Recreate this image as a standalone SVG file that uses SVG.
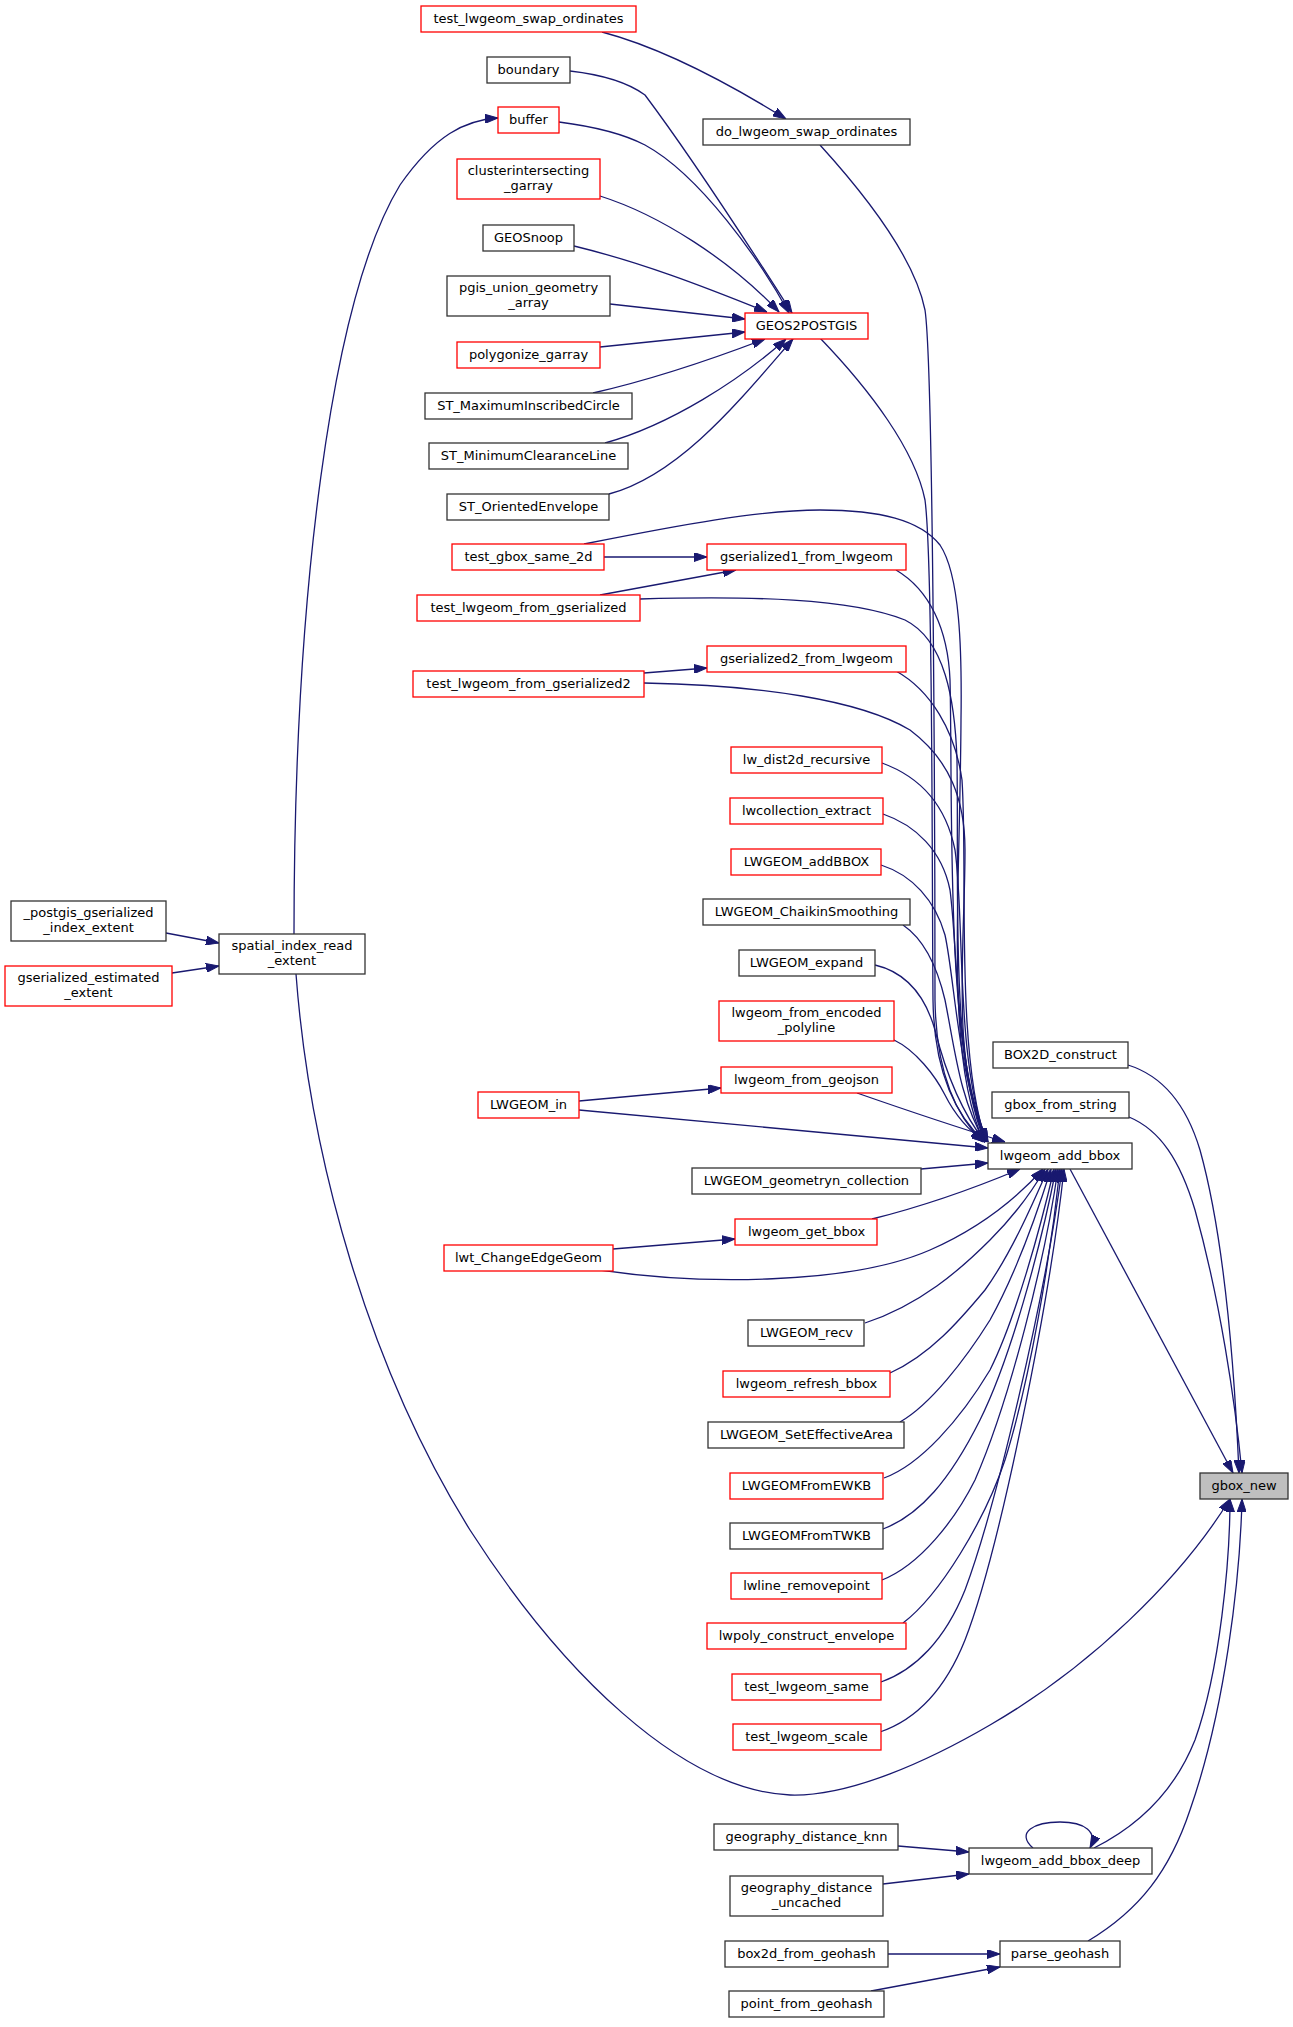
<svg xmlns="http://www.w3.org/2000/svg" width="1293" height="2027" viewBox="0 0 1293 2027">
<style>
.n rect{fill:#fff;stroke:#333333;stroke-width:1.3}
.r rect{fill:#fff;stroke:#ff0000;stroke-width:1.3}
.root rect{fill:#bfbfbf;stroke:#333333;stroke-width:1.3}
text{font-family:"DejaVu Sans","Liberation Sans",sans-serif;font-size:13px;fill:#000;text-anchor:middle}
.e path{fill:none;stroke:#191970;stroke-width:1.3;marker-end:url(#a)}
</style>
<defs>
<marker id="a" markerUnits="userSpaceOnUse" markerWidth="13" markerHeight="9" viewBox="0 0 13 9" refX="13" refY="4.5" orient="auto">
<path d="M0,0 L13,4.5 L0,9 z" fill="#191970" stroke="#191970" stroke-width="1"/>
</marker>
</defs>
<rect x="0" y="0" width="1293" height="2027" fill="#fff"/>
<g id="connectors" class="e">
<path d="M602,32 C655,46 720,78 786,119"/>
<path d="M570,71 C605,75 630,84 645,95 C690,155 755,255 792,313"/>
<path d="M559,122 C590,126 620,132 645,145 C700,175 760,260 789,313"/>
<path d="M600,196 C660,215 730,260 779,312"/>
<path d="M574,246 C640,262 700,285 767,312"/>
<path d="M610,304 L745,319"/>
<path d="M600,347 L745,332"/>
<path d="M593,393 C650,380 710,360 765,339"/>
<path d="M605,443 C670,425 740,380 786,339"/>
<path d="M609,494 C680,475 740,400 793,339"/>
<path d="M294,934 C294,600 330,300 400,185 C435,135 465,120 498,118"/>
<path d="M296,974 C310,1160 370,1370 470,1530 C560,1670 680,1790 790,1795 C850,1797 930,1760 990,1725 C1090,1667 1180,1580 1230,1499"/>
<path d="M166,933 L219,943"/>
<path d="M172,973 L219,966"/>
<path d="M820,145 C870,200 915,260 925,310 C934,370 935,900 935,1000 C936,1070 955,1115 983,1142"/>
<path d="M820,338 C870,390 915,450 925,500 C933,560 932,900 933,1000 C934,1070 955,1115 985,1142"/>
<path d="M604,557 L707,557"/>
<path d="M584,544 C680,525 760,510 820,510 C880,510 920,520 940,545 C960,575 962,650 961,720 C960,900 945,1060 984,1142"/>
<path d="M600,595 L736,570"/>
<path d="M640,599 C750,596 850,598 905,620 C945,640 955,700 957,760 C959,900 950,1060 986,1142"/>
<path d="M644,673 L707,668"/>
<path d="M644,683 C760,685 860,700 910,730 C950,760 965,800 965,850 C965,950 950,1060 987,1142"/>
<path d="M896,570 C930,590 948,630 950,680 C953,800 945,1050 985,1142"/>
<path d="M896,671 C930,690 955,730 962,780 C968,870 955,1050 986,1142"/>
<path d="M882,763 C915,775 945,800 955,850 C965,920 955,1060 987,1142"/>
<path d="M883,814 C915,825 942,850 950,890 C958,950 955,1070 988,1142"/>
<path d="M881,865 C912,875 935,900 945,935 C955,980 958,1080 988,1142"/>
<path d="M903,925 C925,940 938,970 945,1000 C955,1050 960,1100 985,1142"/>
<path d="M875,965 C905,972 925,995 935,1030 C945,1070 960,1110 985,1142"/>
<path d="M894,1040 C915,1050 935,1075 945,1095 C955,1115 968,1130 985,1142"/>
<path d="M857,1093 C900,1108 950,1125 1005,1142"/>
<path d="M579,1101 L721,1088"/>
<path d="M579,1110 L988,1148"/>
<path d="M921,1169 L988,1163"/>
<path d="M872,1219 C920,1207 970,1190 1020,1169"/>
<path d="M613,1249 L735,1239"/>
<path d="M600,1270 C700,1285 850,1285 930,1250 C980,1228 1015,1200 1043,1169"/>
<path d="M865,1323 C920,1305 960,1270 990,1240 C1010,1220 1030,1195 1045,1169"/>
<path d="M890,1373 C930,1355 960,1320 985,1290 C1010,1255 1030,1210 1048,1169"/>
<path d="M900,1422 C930,1405 965,1360 990,1320 C1015,1275 1035,1220 1051,1169"/>
<path d="M884,1478 C920,1465 960,1420 990,1370 C1015,1320 1040,1230 1054,1169"/>
<path d="M883,1529 C920,1515 950,1480 980,1420 C1010,1360 1040,1250 1056,1169"/>
<path d="M882,1580 C920,1565 955,1520 975,1480 C1010,1400 1045,1260 1058,1169"/>
<path d="M903,1623 C940,1595 985,1520 1005,1460 C1030,1380 1050,1260 1060,1169"/>
<path d="M881,1682 C915,1670 945,1640 965,1590 C995,1510 1045,1300 1062,1169"/>
<path d="M880,1732 C915,1720 945,1690 965,1640 C1000,1550 1050,1300 1064,1169"/>
<path d="M1070,1169 L1233,1473"/>
<path d="M1128,1065 C1160,1075 1185,1100 1200,1150 C1225,1240 1235,1380 1239,1473"/>
<path d="M1129,1117 C1160,1130 1180,1160 1195,1210 C1220,1300 1235,1400 1242,1473"/>
<path d="M1094,1848 C1140,1825 1175,1790 1195,1740 C1220,1670 1230,1560 1230,1499"/>
<path d="M1033,1848 C1015,1832 1035,1822 1060,1822 C1085,1822 1098,1832 1090,1848"/>
<path d="M898,1846 L969,1852"/>
<path d="M883,1884 L969,1874"/>
<path d="M888,1954 L1000,1954"/>
<path d="M871,1991 L1000,1967"/>
<path d="M1088,1941 C1140,1910 1170,1870 1190,1810 C1225,1710 1240,1580 1242,1499"/>
</g>
<g id="n_test_lwgeom_swap_ordinates" class="r"><rect x="421" y="6" width="215" height="26"/><text x="528.5" y="23">test_lwgeom_swap_ordinates</text></g>
<g id="n_boundary" class="n"><rect x="487" y="57" width="83" height="26"/><text x="528.5" y="74">boundary</text></g>
<g id="n_buffer" class="r"><rect x="498" y="107" width="61" height="26"/><text x="528.5" y="124">buffer</text></g>
<g id="n_clusterintersecting_garray" class="r"><rect x="457" y="159" width="143" height="40"/><text x="528.5" y="175">clusterintersecting</text><text x="528.5" y="190">_garray</text></g>
<g id="n_GEOSnoop" class="n"><rect x="483" y="225" width="91" height="26"/><text x="528.5" y="242">GEOSnoop</text></g>
<g id="n_pgis_union_geometry_array" class="n"><rect x="447" y="276" width="163" height="40"/><text x="528.5" y="292">pgis_union_geometry</text><text x="528.5" y="307">_array</text></g>
<g id="n_polygonize_garray" class="r"><rect x="457" y="342" width="143" height="26"/><text x="528.5" y="359">polygonize_garray</text></g>
<g id="n_ST_MaximumInscribedCircle" class="n"><rect x="425" y="393" width="207" height="26"/><text x="528.5" y="410">ST_MaximumInscribedCircle</text></g>
<g id="n_ST_MinimumClearanceLine" class="n"><rect x="429" y="443" width="199" height="26"/><text x="528.5" y="460">ST_MinimumClearanceLine</text></g>
<g id="n_ST_OrientedEnvelope" class="n"><rect x="447" y="494" width="162" height="26"/><text x="528.5" y="511">ST_OrientedEnvelope</text></g>
<g id="n_test_gbox_same_2d" class="r"><rect x="452" y="544" width="152" height="26"/><text x="528.5" y="561">test_gbox_same_2d</text></g>
<g id="n_test_lwgeom_from_gserialized" class="r"><rect x="417" y="595" width="223" height="26"/><text x="528.5" y="612">test_lwgeom_from_gserialized</text></g>
<g id="n_test_lwgeom_from_gserialized2" class="r"><rect x="413" y="671" width="231" height="26"/><text x="528.5" y="688">test_lwgeom_from_gserialized2</text></g>
<g id="n_LWGEOM_in" class="r"><rect x="478" y="1092" width="101" height="26"/><text x="528.5" y="1109">LWGEOM_in</text></g>
<g id="n_lwt_ChangeEdgeGeom" class="r"><rect x="444" y="1245" width="169" height="26"/><text x="528.5" y="1262">lwt_ChangeEdgeGeom</text></g>
<g id="n_do_lwgeom_swap_ordinates" class="n"><rect x="703" y="119" width="207" height="26"/><text x="806.5" y="136">do_lwgeom_swap_ordinates</text></g>
<g id="n_GEOS2POSTGIS" class="r"><rect x="745" y="313" width="123" height="26"/><text x="806.5" y="330">GEOS2POSTGIS</text></g>
<g id="n_gserialized1_from_lwgeom" class="r"><rect x="707" y="544" width="199" height="26"/><text x="806.5" y="561">gserialized1_from_lwgeom</text></g>
<g id="n_gserialized2_from_lwgeom" class="r"><rect x="707" y="646" width="199" height="26"/><text x="806.5" y="663">gserialized2_from_lwgeom</text></g>
<g id="n_lw_dist2d_recursive" class="r"><rect x="731" y="747" width="151" height="26"/><text x="806.5" y="764">lw_dist2d_recursive</text></g>
<g id="n_lwcollection_extract" class="r"><rect x="730" y="798" width="153" height="26"/><text x="806.5" y="815">lwcollection_extract</text></g>
<g id="n_LWGEOM_addBBOX" class="r"><rect x="731" y="849" width="150" height="26"/><text x="806.5" y="866">LWGEOM_addBBOX</text></g>
<g id="n_LWGEOM_ChaikinSmoothing" class="n"><rect x="703" y="899" width="207" height="26"/><text x="806.5" y="916">LWGEOM_ChaikinSmoothing</text></g>
<g id="n_LWGEOM_expand" class="n"><rect x="739" y="950" width="136" height="26"/><text x="806.5" y="967">LWGEOM_expand</text></g>
<g id="n_lwgeom_from_encoded_polyline" class="r"><rect x="719" y="1001" width="175" height="40"/><text x="806.5" y="1017">lwgeom_from_encoded</text><text x="806.5" y="1032">_polyline</text></g>
<g id="n_lwgeom_from_geojson" class="r"><rect x="721" y="1067" width="171" height="26"/><text x="806.5" y="1084">lwgeom_from_geojson</text></g>
<g id="n_LWGEOM_geometryn_collection" class="n"><rect x="692" y="1168" width="229" height="26"/><text x="806.5" y="1185">LWGEOM_geometryn_collection</text></g>
<g id="n_lwgeom_get_bbox" class="r"><rect x="735" y="1219" width="142" height="26"/><text x="806.5" y="1236">lwgeom_get_bbox</text></g>
<g id="n_LWGEOM_recv" class="n"><rect x="748" y="1320" width="116" height="26"/><text x="806.5" y="1337">LWGEOM_recv</text></g>
<g id="n_lwgeom_refresh_bbox" class="r"><rect x="723" y="1371" width="167" height="26"/><text x="806.5" y="1388">lwgeom_refresh_bbox</text></g>
<g id="n_LWGEOM_SetEffectiveArea" class="n"><rect x="708" y="1422" width="196" height="26"/><text x="806.5" y="1439">LWGEOM_SetEffectiveArea</text></g>
<g id="n_LWGEOMFromEWKB" class="r"><rect x="730" y="1473" width="153" height="26"/><text x="806.5" y="1490">LWGEOMFromEWKB</text></g>
<g id="n_LWGEOMFromTWKB" class="n"><rect x="730" y="1523" width="153" height="26"/><text x="806.5" y="1540">LWGEOMFromTWKB</text></g>
<g id="n_lwline_removepoint" class="r"><rect x="731" y="1573" width="151" height="26"/><text x="806.5" y="1590">lwline_removepoint</text></g>
<g id="n_lwpoly_construct_envelope" class="r"><rect x="707" y="1623" width="199" height="26"/><text x="806.5" y="1640">lwpoly_construct_envelope</text></g>
<g id="n_test_lwgeom_same" class="r"><rect x="732" y="1674" width="149" height="26"/><text x="806.5" y="1691">test_lwgeom_same</text></g>
<g id="n_test_lwgeom_scale" class="r"><rect x="733" y="1724" width="148" height="26"/><text x="806.5" y="1741">test_lwgeom_scale</text></g>
<g id="n_geography_distance_knn" class="n"><rect x="714" y="1824" width="184" height="26"/><text x="806.5" y="1841">geography_distance_knn</text></g>
<g id="n_geography_distance_uncached" class="n"><rect x="730" y="1876" width="153" height="40"/><text x="806.5" y="1892">geography_distance</text><text x="806.5" y="1907">_uncached</text></g>
<g id="n_box2d_from_geohash" class="n"><rect x="725" y="1941" width="163" height="26"/><text x="806.5" y="1958">box2d_from_geohash</text></g>
<g id="n_point_from_geohash" class="n"><rect x="729" y="1991" width="155" height="26"/><text x="806.5" y="2008">point_from_geohash</text></g>
<g id="n_BOX2D_construct" class="n"><rect x="993" y="1042" width="135" height="26"/><text x="1060.5" y="1059">BOX2D_construct</text></g>
<g id="n_gbox_from_string" class="n"><rect x="992" y="1092" width="137" height="26"/><text x="1060.5" y="1109">gbox_from_string</text></g>
<g id="n_lwgeom_add_bbox" class="n"><rect x="988" y="1143" width="144" height="26"/><text x="1060" y="1160">lwgeom_add_bbox</text></g>
<g id="n_lwgeom_add_bbox_deep" class="n"><rect x="969" y="1848" width="183" height="26"/><text x="1060.5" y="1865">lwgeom_add_bbox_deep</text></g>
<g id="n_parse_geohash" class="n"><rect x="1000" y="1941" width="120" height="26"/><text x="1060" y="1958">parse_geohash</text></g>
<g id="n_gbox_new" class="root"><rect x="1200" y="1473" width="88" height="26"/><text x="1244" y="1490">gbox_new</text></g>
<g id="n_postgis_gserialized_index_extent" class="n"><rect x="11" y="901" width="155" height="40"/><text x="88.5" y="917">_postgis_gserialized</text><text x="88.5" y="932">_index_extent</text></g>
<g id="n_gserialized_estimated_extent" class="r"><rect x="5" y="966" width="167" height="40"/><text x="88.5" y="982">gserialized_estimated</text><text x="88.5" y="997">_extent</text></g>
<g id="n_spatial_index_read_extent" class="n"><rect x="219" y="934" width="146" height="40"/><text x="292" y="950">spatial_index_read</text><text x="292" y="965">_extent</text></g>
</svg>
